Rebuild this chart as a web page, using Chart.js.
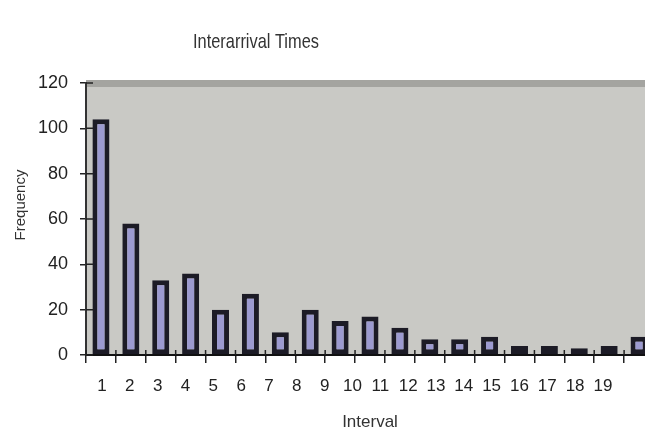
<!DOCTYPE html>
<html>
<head>
<meta charset="utf-8">
<script src="https://cdn.jsdelivr.net/npm/chart.js@4.4.1/dist/chart.umd.min.js"></script>
<style>
  html, body { margin:0; padding:0; background:#fff; overflow:hidden; }
  #wrap { width:645px; height:437px; overflow:hidden; }
  canvas { display:block; }
</style>
</head>
<body>
<div id="wrap"><canvas id="chart" width="660" height="437"></canvas></div>
<script>
// data
const TITLE = 'Interarrival Times';
const Y_TITLE = 'Frequency';
const intervals = ['1','2','3','4','5','6','7','8','9','10','11','12','13','14','15','16','17','18','19'];
const frequency = [104, 58, 33, 36, 20, 27, 10, 20, 15, 17, 12, 7, 7, 8, 4, 4, 3, 4, 8];
const tickLabels = ['1','2','3','4','5','6','7','8','9','10','11','12','13','14','15','16','17','18','19'];

const FONT = '"Liberation Sans", Arial, sans-serif';
Chart.defaults.font.family = FONT;
Chart.defaults.color = '#222';

// grey plot area with the darker band along its top edge
const plotBg = {
  id: 'plotBg',
  beforeDraw(chart) {
    const { ctx, chartArea: a } = chart;
    ctx.save();
    ctx.fillStyle = '#c9c9c5';
    ctx.fillRect(a.left, a.top, a.right - a.left, a.bottom - a.top);
    ctx.fillStyle = '#a4a4a0';
    ctx.fillRect(a.left, a.top - 3, a.right - a.left, 7);
    ctx.restore();
  }
};

// tick marks in the original cross the axis line, chart.js only draws the outer half
const innerTicks = {
  id: 'innerTicks',
  afterDraw(chart) {
    const { ctx, scales: { x, y } } = chart;
    ctx.save();
    ctx.strokeStyle = '#222';
    ctx.lineWidth = 1.5;
    ctx.beginPath();
    for (let i = 0; i <= intervals.length; i++) {
      const px = x.getPixelForValue(i - 0.5);
      ctx.moveTo(px, x.top - 5); ctx.lineTo(px, x.top);
    }
    y.ticks.forEach((t, i) => {
      const py = y.getPixelForTick(i);
      ctx.moveTo(y.right, py); ctx.lineTo(y.right + 7, py);
    });
    ctx.stroke();
    ctx.restore();
  }
};

// title sits left of centre and is a narrow face in the original
const titles = {
  id: 'titles',
  afterDraw(chart) {
    const ctx = chart.ctx;
    ctx.save();
    ctx.fillStyle = '#333';
    ctx.textAlign = 'center';
    ctx.textBaseline = 'middle';
    ctx.font = '21px ' + FONT;
    ctx.translate(256, 42);
    ctx.scale(0.78, 1);
    ctx.fillText(TITLE, 0, 0);
    ctx.restore();

    ctx.save();
    ctx.fillStyle = '#333';
    ctx.textAlign = 'center';
    ctx.textBaseline = 'middle';
    ctx.font = '15px ' + FONT;
    ctx.translate(21, 205);
    ctx.rotate(-Math.PI / 2);
    ctx.fillText(Y_TITLE, 0, 0);
    ctx.restore();
  }
};

new Chart(document.getElementById('chart').getContext('2d'), {
  type: 'bar',
  data: {
    labels: intervals,
    datasets: [{
      label: 'Frequency',
      data: frequency,
      backgroundColor: '#9c9ad0',
      borderColor: '#1c1b26',
      borderWidth: 5,
      borderSkipped: false,
      barPercentage: 0.57,
      categoryPercentage: 1
    }]
  },
  options: {
    responsive: false,
    animation: false,
    layout: { padding: { top: 83, right: 6, bottom: 0, left: 0 } },
    plugins: { legend: { display: false }, tooltip: { enabled: false } },
    scales: {
      x: {
        type: 'category', position: 'bottom', weight: 0, offset: true,
        grid: { display: true, offset: true, drawOnChartArea: false, drawTicks: true, tickLength: 8, color: '#222', lineWidth: 1.5 },
        border: { display: true, color: '#111', width: 2 },
        ticks: { display: false },
        afterFit(s) { s.height = 8; }
      },
      // printed numbers run at a slightly tighter pitch than the bars
      x2: {
        type: 'linear', position: 'bottom', weight: 1, offset: false,
        min: 0.425, max: 20.835,
        grid: { display: false }, border: { display: false },
        afterBuildTicks(s) { s.ticks = tickLabels.map(v => ({ value: +v })); },
        ticks: { padding: 5, font: { size: 17 }, color: '#222', autoSkip: false, maxRotation: 0, callback: v => String(v) },
        title: { display: true, text: 'Interval', font: { size: 17 }, color: '#333', padding: { top: 0, bottom: 4 } },
        afterFit(s) { s.height = 74; }
      },
      y: {
        min: 0, max: 120,
        ticks: { stepSize: 20, padding: 12, font: { size: 18 }, color: '#222' },
        grid: { drawOnChartArea: false, tickLength: 6, color: '#222', lineWidth: 1.5 },
        border: { display: true, color: '#333', width: 2 },
        afterFit(s) { s.width = 86; }
      }
    }
  },
  plugins: [plotBg, innerTicks, titles]
});
</script>
</body>
</html>
